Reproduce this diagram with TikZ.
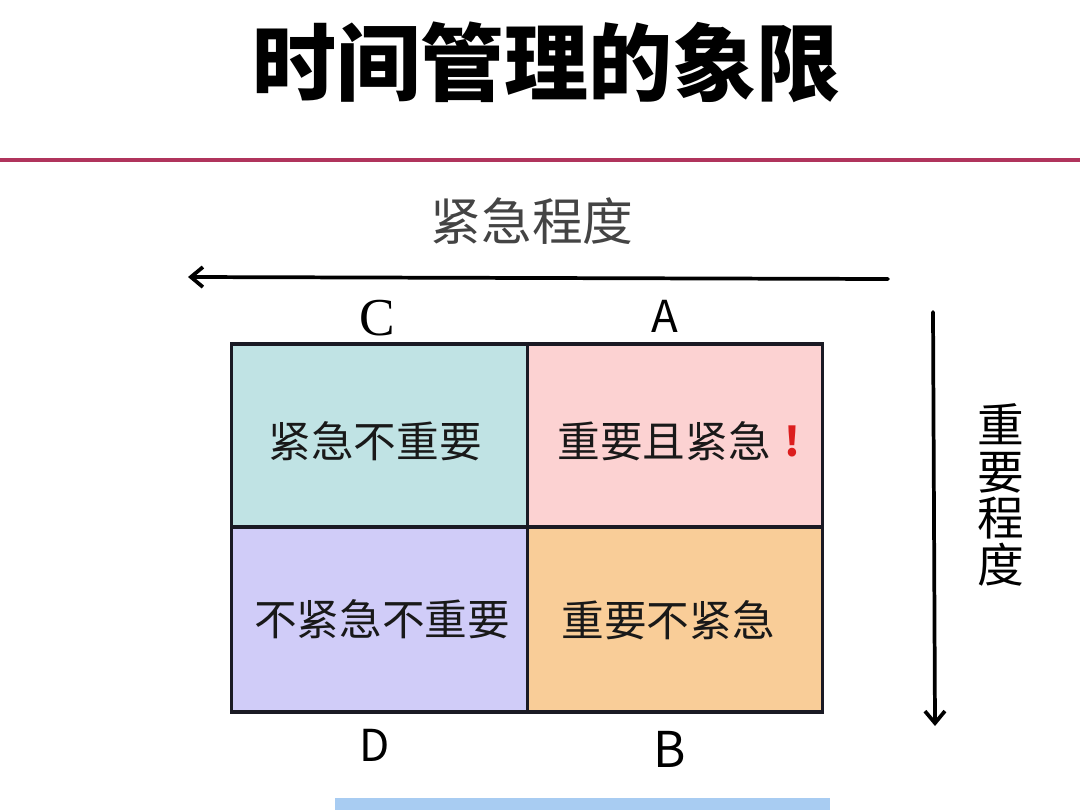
\documentclass[tikz,border=0pt]{standalone}
\usepackage{fontspec}
\usetikzlibrary{arrows.meta}
\newfontfamily\cjk{Noto Sans CJK SC}
\newfontfamily\serifc{Liberation Serif}
\definecolor{redline}{RGB}{176,52,92}
\definecolor{headgray}{RGB}{68,68,68}
\definecolor{tealc}{RGB}{192,227,228}
\definecolor{pinkc}{RGB}{252,210,210}
\definecolor{lavc}{RGB}{208,204,248}
\definecolor{peachc}{RGB}{249,205,152}
\definecolor{barblue}{RGB}{168,204,242}
\definecolor{gridline}{RGB}{26,26,36}
\definecolor{exred}{RGB}{220,30,30}
\tikzset{
  cell/.style={draw=gridline, line width=2.4pt, minimum width=221.5pt, inner sep=0pt},
  celltext/.style={font=\cjk\fontsize{32}{32}\selectfont, text=black!90, inner sep=0pt},
  axis/.style={line width=2.8pt, line cap=round, -{Straight Barb[length=9pt,width=15pt]}},
  letter/.style={font=\cjk\fontsize{33}{33}\selectfont, inner sep=0pt}
}
\begin{document}
\begin{tikzpicture}[x=0.75pt,y=-0.75pt]
\useasboundingbox (0,0) rectangle (1080,810);
\fill[white] (0,0) rectangle (1080,810);
% title
\node[font=\cjk\bfseries\fontsize{63}{63}\selectfont, inner sep=0pt] (title) at (546,62) {时间管理的象限};
% red rule
\coordinate (rl) at (0,160);
\coordinate (rr) at (1080,160);
\draw[redline, line width=3.5pt] (rl) -- (rr);
% urgency heading
\node[font=\cjk\fontsize{38}{38}\selectfont, text=headgray, inner sep=0pt] (urg) at (532,221) {紧急程度};
% horizontal arrow
\coordinate (hs) at (888,279);
\coordinate (he) at (188,277);
\draw[axis] (hs) -- (he);
% letters
\node[font=\serifc\fontsize{40}{40}\selectfont, inner sep=0pt] (lc) at (377,318) {C};
\node[letter] (la) at (665,316) {A};
\node[letter] (ld) at (375,745) {D};
\node[letter, font=\cjk\fontsize{37}{37}\selectfont] (lb) at (670,749) {B};
% cells
\node[cell, fill=tealc, minimum height=137.25pt] (q1) at (379.5,435.5) {};
\node[cell, fill=pinkc, minimum height=137.25pt] (q2) at (675,435.5) {};
\node[cell, fill=lavc, minimum height=138.75pt] (q3) at (379.5,619.5) {};
\node[cell, fill=peachc, minimum height=138.75pt] (q4) at (675,619.5) {};
\node[celltext] (t1) at (375,441) {紧急不重要};
\node[celltext] (t2) at (664,441) {重要且紧急};
\node[font=\cjk\bfseries\fontsize{30}{30}\selectfont, text=exred, inner sep=0pt] (ex) at (792,441) {!};
\node[celltext] (t3) at (382,619) {不紧急不重要};
\node[celltext] (t4) at (668,620) {重要不紧急};
% vertical arrow
\coordinate (vs) at (933,312);
\coordinate (ve) at (935,726);
\draw[axis] (vs) -- (ve);
\node[font=\cjk\fontsize{35}{35}\selectfont, align=center, inner sep=0pt] (imp) at (1001,495) {重\\要\\程\\度};
% bottom bar
\fill[barblue] (335,798) rectangle (830,810);
\end{tikzpicture}
\end{document}
